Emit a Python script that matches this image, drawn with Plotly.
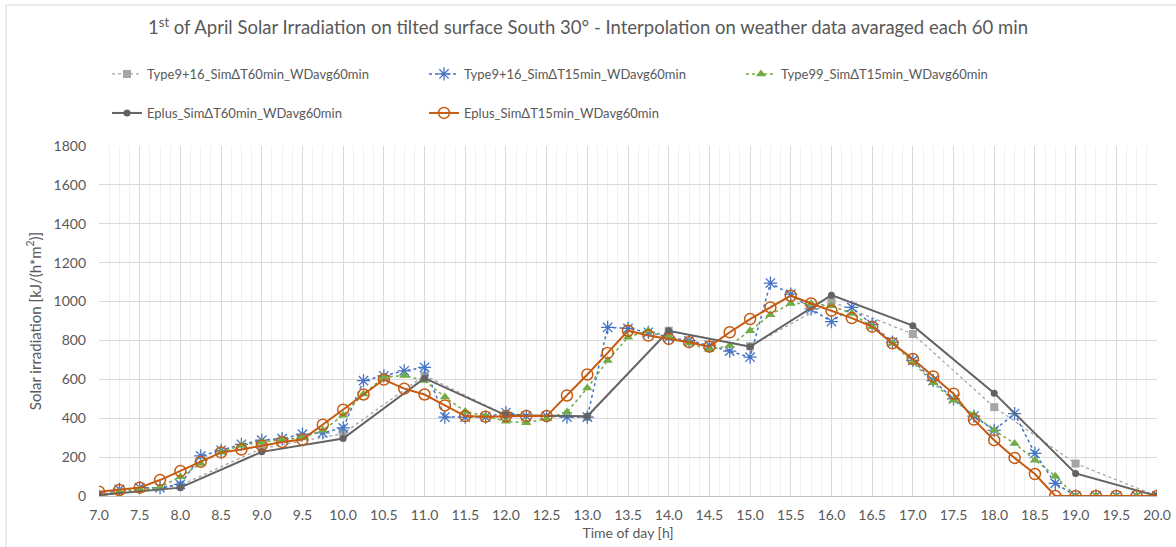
import plotly.graph_objects as go

# ---------------- data ----------------
t_hourly = [7.0, 8.0, 9.0, 10.0, 11.0, 12.0, 13.0, 14.0, 15.0, 16.0, 17.0, 18.0, 19.0, 20.0]
type916_60 = [0, 55, 245, 321, 620, 415, 406, 850, 770, 1000, 833, 457, 167, 0]
eplus_60 = [5, 43, 227, 296, 606, 415, 410, 850, 768, 1033, 876, 529, 116, 0]

t_15 = [7.0, 7.25, 7.5, 7.75, 8.0, 8.25, 8.5, 8.75, 9.0, 9.25, 9.5, 9.75,
        10.0, 10.25, 10.5, 10.75, 11.0, 11.25, 11.5, 11.75, 12.0, 12.25, 12.5, 12.75,
        13.0, 13.25, 13.5, 13.75, 14.0, 14.25, 14.5, 14.75, 15.0, 15.25, 15.5, 15.75,
        16.0, 16.25, 16.5, 16.75, 17.0, 17.25, 17.5, 17.75, 18.0, 18.25, 18.5, 18.75,
        19.0, 19.25, 19.5, 19.75, 20.0]
type916_15 = [0, 34, 43, 43, 60, 206, 235, 266, 287, 295, 318, 325,
              350, 593, 618, 644, 662, 406, 406, 406, 429, 411, 411, 406,
              406, 867, 862, 842, 816, 799, 774, 745, 714, 1095, 1038, 962,
              897, 970, 882, 791, 697, 594, 500, 411, 338, 424, 219, 65,
              0, 0, 0, 0, 0]
type99_15 = [0, 22, 35, 45, 99, 167, 225, 261, 278, 290, 300, 338,
             415, 525, 611, 620, 594, 509, 435, 411, 384, 377, 398, 432,
             555, 697, 816, 850, 820, 785, 753, 774, 850, 932, 990, 990,
             978, 939, 871, 785, 688, 582, 492, 418, 338, 270, 184, 102,
             0, 0, 0, 0, 0]
eplus_15 = [22, 31, 43, 82, 128, 176, 224, 239, 260, 278, 290, 367,
            444, 522, 599, 552, 522, 466, 411, 408, 411, 411, 411, 517,
            625, 736, 850, 825, 808, 791, 768, 842, 910, 970, 1030, 990,
            953, 915, 871, 785, 705, 615, 526, 393, 287, 196, 113, 0,
            0, 0, 0, 0, 0]

names = ["Type9+16_SimΔT60min_WDavg60min", "Type9+16_SimΔT15min_WDavg60min",
         "Type99_SimΔT15min_WDavg60min", "Eplus_SimΔT60min_WDavg60min",
         "Eplus_SimΔT15min_WDavg60min"]

title_text = ("1<sup>st</sup> of April Solar Irradiation on tilted surface South 30° - "
              "Interpolation on weather data avaraged each 60 min")

# ---------------- layout geometry ----------------
W, H = 1176, 547
L, R, T, B = 99, 19, 146, 51
PW, PH = W - L - R, H - T - B

def px(xp):
    return (xp - L) / PW

def py(yp):
    return (H - B - yp) / PH

FONT = "Lato"
TXT = "#595959"

fig = go.Figure()
fig.add_trace(go.Scatter(x=t_hourly, y=type916_60, name=names[0], mode="lines+markers",
                         line=dict(color="#a5a5a5", width=1.3, dash="dot"),
                         marker=dict(symbol="square", size=8, color="#a5a5a5"),
                         legend="legend"))
fig.add_trace(go.Scatter(x=t_15, y=type916_15, name=names[1], mode="lines+markers",
                         line=dict(color="#4472c4", width=1.5, dash="dot"),
                         marker=dict(symbol="asterisk-open", size=11, color="#4472c4",
                                     line=dict(width=1.3, color="#4472c4")),
                         legend="legend"))
fig.add_trace(go.Scatter(x=t_15, y=type99_15, name=names[2], mode="lines+markers",
                         line=dict(color="#70ad47", width=1.5, dash="dot"),
                         marker=dict(symbol="triangle-up", size=9, color="#70ad47"),
                         legend="legend"))
fig.add_trace(go.Scatter(x=t_hourly, y=eplus_60, name=names[3], mode="lines+markers",
                         line=dict(color="#636363", width=2),
                         marker=dict(symbol="circle", size=7, color="#636363"),
                         legend="legend2"))
fig.add_trace(go.Scatter(x=t_15, y=eplus_15, name=names[4], mode="lines+markers",
                         line=dict(color="#c55a11", width=2),
                         marker=dict(symbol="circle-open", size=11, color="#c55a11",
                                     line=dict(width=1.5, color="#c55a11")),
                         legend="legend2"))

legend_common = dict(orientation="h", xanchor="left", yanchor="middle",
                     entrywidth=272, entrywidthmode="pixels",
                     font=dict(family=FONT, size=13, color=TXT),
                     bgcolor="rgba(0,0,0,0)", itemwidth=30, traceorder="normal")

fig.update_layout(
    width=W, height=H,
    margin=dict(l=L, r=R, t=T, b=B, autoexpand=False),
    paper_bgcolor="white", plot_bgcolor="white",
    font=dict(family=FONT, color=TXT, size=14),
    title=dict(text=title_text, x=0.5, xanchor="center", xref="container",
               y=1 - 28 / H, yanchor="middle", yref="container",
               font=dict(family=FONT, size=18.5, color=TXT)),
    legend=dict(x=px(107), y=py(74), **legend_common),
    legend2=dict(x=px(107), y=py(113), **legend_common),
    showlegend=True,
    xaxis=dict(range=[7, 20], dtick=0.5, tick0=7, tickformat=".1f", automargin=False,
               showgrid=True, gridcolor="#d9d9d9", gridwidth=1,
               minor=dict(dtick=0.125, tick0=7, showgrid=True, gridcolor="#f0f0f0", gridwidth=1),
               showline=True, linecolor="#bfbfbf", linewidth=1,
               ticks="", ticklabelstandoff=6, zeroline=False,
               tickfont=dict(family=FONT, size=14, color=TXT),
               title=dict(text="Time of day [h]", standoff=6,
                          font=dict(family=FONT, size=14, color=TXT))),
    yaxis=dict(range=[0, 1800], dtick=200, tick0=0, automargin=False,
               showgrid=True, gridcolor="#d9d9d9", gridwidth=1,
               showline=False, zeroline=False, ticks="", ticklabelstandoff=12,
               tickfont=dict(family=FONT, size=14, color=TXT),
               title=dict(text="Solar irradiation [kJ/(h*m<sup>2</sup>)]", standoff=8,
                          font=dict(family=FONT, size=15, color=TXT))),
    shapes=[dict(type="rect", xref="paper", yref="paper",
                 x0=px(6), x1=px(1185), y0=py(560), y1=py(5),
                 line=dict(color="#d9d9d9", width=1), fillcolor="rgba(0,0,0,0)",
                 layer="below")],
)

fig.write_html("out.html", config={"displayModeBar": False},
               post_script="document.body.style.margin='0';")
